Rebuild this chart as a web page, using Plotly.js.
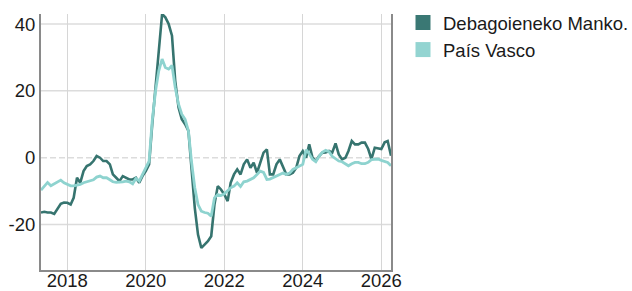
<!DOCTYPE html>
<html>
<head>
<meta charset="utf-8">
<script src="https://cdn.plot.ly/plotly-3.0.1.min.js"></script>
<style>
  html, body { margin: 0; padding: 0; background: #ffffff; }
  #chart { width: 632px; height: 291px; }
</style>
</head>
<body>
<div id="chart"></div>
<script>
// ---- data (monthly, first month = May 2017) ----
const START_YEAR = 2017;
const START_MONTH = 5;

const seriesNames = ["Debagoieneko Manko.", "País Vasco"];

const debagoiena = [
  -16.4, -16.2, -16.4, -16.4, -16.8, -15.5, -13.8, -13.4, -13.5, -14,
  -12, -6, -7.5, -4, -2.5, -2, -1, 0.5, 0, -1,
  -1, -2, -5, -6, -7, -5.5, -6, -6.5, -6.5, -6,
  -7.5, -5.5, -4, -2, 10, 22, 33, 43, 42, 40,
  36.5, 23, 15, 11.5, 10, 8, -3, -15, -23, -27,
  -26, -25, -23.5, -14, -8.5, -9.5, -11, -13, -7.5, -5,
  -3.5, -5, -2, -0.5, -3, -1.5, -4.5, -1.5, 1.5, 2.5,
  -5, -5, -2, -0.5, -3, -5, -5, -4.5, -3, 0.5,
  2, 0, 4, 0, -1, 0.5, 1.5, 1.6, 2, 1.5,
  4.3, 1, -0.5, 0, 2, 5, 4, 4, 4.5, 4.5,
  2.6, -0.4, 3, 2.8, 2.6, 4.6, 5, 0.6
];

const paisVasco = [
  -9.7, -8.5, -7.4, -8.4, -7.8, -7.2, -6.7, -7.5, -8, -8.4,
  -8.4, -8.2, -8, -7.5, -7.2, -7, -6.6, -5.8, -5.5, -6,
  -6, -6.6, -7.2, -7.4, -7.4, -7.2, -7, -7.2, -7.8, -6.2,
  -7, -5, -3, -1, 11, 20, 26, 29.5, 27, 26.5,
  27.6, 21, 16, 13, 11.5, 8, -1, -9, -14, -16,
  -16.4, -16.6, -17.5, -12, -11, -11.3, -10.8, -10, -9, -8.5,
  -7.5, -8.6, -7.2, -7, -6.5, -6, -5, -4, -4.4, -6.5,
  -6.4, -6, -5.4, -5.2, -4.6, -5, -4.6, -3.5, -3, -2.4,
  -2, 2.4, 1.2, -0.5, -1.2, 0.4, 1.6, 2.2, 1.8, 0.4,
  -0.2, -1, -1.2, -1.8, -2.4, -1.8, -1.4, -1.4, -1.8, -1.8,
  -1.4, -0.6, -0.4, -0.4, -0.8, -1, -1.4, -2.4
];

const yTickVals = [-20, 0, 20, 40];
const yTickText = ["-20", "0", "20", "40"];

// ---- month labels for the x axis ----
function monthLabels(n) {
  const out = [];
  for (let k = 0; k < n; k++) {
    const m0 = (START_MONTH - 1) + k;
    const y = START_YEAR + Math.floor(m0 / 12);
    const m = (m0 % 12) + 1;
    out.push(y + "-" + String(m).padStart(2, "0") + "-01");
  }
  return out;
}
const months = monthLabels(debagoiena.length);

const DARK = "#36746f";
const LIGHT = "#8ed3cf";
const FONT = "Liberation Sans, Arial, sans-serif";
const FS = 18.5;

const traces = [
  { x: months, y: debagoiena, type: "scatter", mode: "lines",
    line: { color: DARK, width: 2.6 }, showlegend: false, hoverinfo: "skip" },
  { x: months, y: paisVasco, type: "scatter", mode: "lines",
    line: { color: LIGHT, width: 2.8 }, showlegend: false, hoverinfo: "skip" },
  { x: [null], y: [null], type: "scatter", mode: "markers", name: seriesNames[0],
    marker: { symbol: "square", size: 15, color: "#3a7874" } },
  { x: [null], y: [null], type: "scatter", mode: "markers", name: seriesNames[1],
    marker: { symbol: "square", size: 15, color: "#93d4d1" } }
];

const shapes = yTickVals.map(v => ({
  type: "line", xref: "paper", x0: 0, x1: 1, yref: "y", y0: v, y1: v,
  layer: "below",
  line: { color: "#dcdcdc", width: 1.5, dash: v === 0 ? "6px,3px" : "solid" }
}));

const layout = {
  width: 632, height: 291,
  margin: { l: 41, r: 241, t: 14, b: 21, pad: 0, autoexpand: false },
  paper_bgcolor: "#ffffff", plot_bgcolor: "#ffffff",
  font: { family: FONT, size: FS, color: "#1a1a1a" },
  showlegend: true,
  legend: {
    xref: "container", yref: "container",
    x: 403 / 632, xanchor: "left", y: 1 - 4 / 291, yanchor: "top",
    font: { family: FONT, size: FS, color: "#1a1a1a" },
    itemsizing: "trace", tracegroupgap: 0, bgcolor: "rgba(0,0,0,0)"
  },
  xaxis: {
    type: "date", automargin: false,
    tick0: "2018-01-01", dtick: "M24", tickformat: "%Y",
    ticks: "", ticklabelstandoff: -7, showgrid: true, gridcolor: "#d6d6d6", gridwidth: 1,
    showline: true, linecolor: "#8a8a8a", linewidth: 2, zeroline: false,
    tickfont: { family: FONT, size: FS, color: "#1a1a1a" }
  },
  yaxis: {
    range: [-33.6, 43], automargin: false,
    tickvals: yTickVals, ticktext: yTickText,
    ticks: "", showgrid: false, zeroline: false,
    showline: true, mirror: true, linecolor: "#8a8a8a", linewidth: 2,
    tickfont: { family: FONT, size: FS, color: "#1a1a1a" }
  },
  shapes: shapes
};

Plotly.newPlot("chart", traces, layout, { staticPlot: true, displayModeBar: false });
</script>
</body>
</html>
